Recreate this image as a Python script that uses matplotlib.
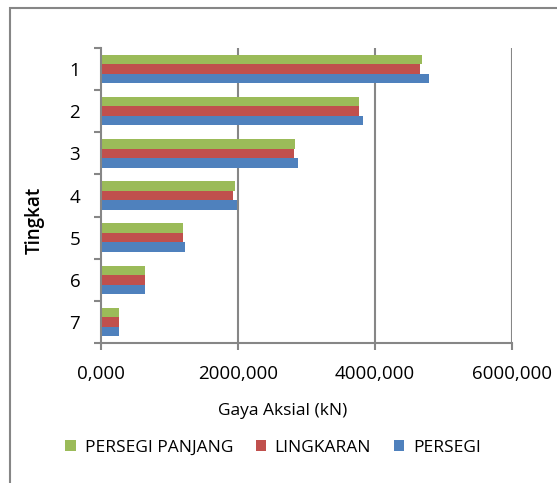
import numpy as np
import matplotlib
matplotlib.use('Agg')
import matplotlib.pyplot as plt
from matplotlib.ticker import FixedLocator, FuncFormatter
from matplotlib.patches import Rectangle

plt.rcParams['font.family'] = ['Open Sans', 'DejaVu Sans']

# data (kN), tingkat 1..7
tingkat = ['1', '2', '3', '4', '5', '6', '7']
persegi_panjang = [4690, 3770, 2830, 1950, 1200, 640, 260]
lingkaran = [4660, 3760, 2820, 1930, 1190, 640, 260]
persegi = [4790, 3830, 2880, 1990, 1220, 640, 260]

GREEN = '#9BBB59'
RED = '#C0504D'
BLUE = '#4F81BD'
GRAY = '#868686'

W, H = 557, 483
fig = plt.figure(figsize=(W / 100, H / 100), dpi=100)

# outer chart frame (cropped on the right and bottom)
fig.patches.append(Rectangle((10 / W, -0.1), 1.2, 1 - 8 / H + 0.1,
                             transform=fig.transFigure, fill=False,
                             edgecolor=GRAY, linewidth=1.5))

ax = fig.add_axes([101 / W, 1 - 343 / H, (512 - 101) / W, (343 - 48) / H])

y = np.arange(len(tingkat))
h = 0.224
ax.barh(y - h, persegi_panjang, h, color=GREEN, label='PERSEGI PANJANG')
ax.barh(y, lingkaran, h, color=RED, label='LINGKARAN')
ax.barh(y + h, persegi, h, color=BLUE, label='PERSEGI')

ax.set_xlim(0, 6000)
ax.set_ylim(len(tingkat) - 0.5, -0.5)

ax.xaxis.set_major_locator(FixedLocator([0, 2000, 4000, 6000]))
ax.xaxis.set_major_formatter(FuncFormatter(lambda v, p: f'{v:.3f}'.replace('.', ',')))
ax.set_yticks(y)
ax.set_yticklabels(tingkat)
ax.yaxis.set_minor_locator(FixedLocator(np.arange(-0.5, len(tingkat), 1)))
ax.tick_params(axis='y', which='major', length=0, pad=15, labelsize=13.5)
ax.tick_params(axis='y', which='minor', length=5, width=1.5, color=GRAY, direction='out')
ax.tick_params(axis='x', length=5, width=1.5, color=GRAY, direction='out', pad=11, labelsize=13.5)

for s in ['top', 'right']:
    ax.spines[s].set_visible(False)
for s in ['left', 'bottom']:
    ax.spines[s].set_color(GRAY)
    ax.spines[s].set_linewidth(1.5)

for xv in [2000, 4000, 6000]:
    ax.axvline(xv, color=GRAY, linewidth=1.5, zorder=0)

ax.set_xlabel('Gaya Aksial (kN)', fontsize=12.5, labelpad=9)
ax.xaxis.set_label_coords((283 - 101) / 411, -(411 - 343) / 295)
ax.xaxis.label.set_va('center')
ax.set_ylabel('Tingkat', fontsize=13.5, fontweight='semibold')
ax.yaxis.set_label_coords(-(101 - 35) / 411, (343 - 220) / 295)
ax.yaxis.label.set_va('center')

ax.legend(loc='center', bbox_to_anchor=(273 / W, 1 - 448 / H), bbox_transform=fig.transFigure,
          ncol=3, frameon=False, fontsize=12.5, handlelength=0.6, handleheight=0.6,
          handletextpad=0.5, columnspacing=1.3)

fig.savefig('out.png', dpi=100)
